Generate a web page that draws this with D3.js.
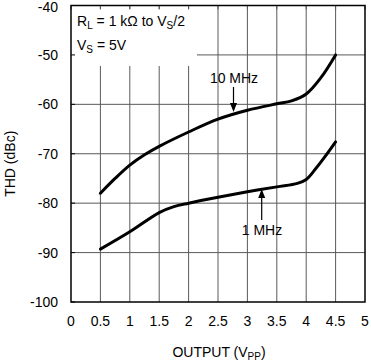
<!DOCTYPE html>
<html>
<head>
<meta charset="utf-8">
<script src="https://cdn.jsdelivr.net/npm/d3@7"></script>
<style>
  body { margin: 0; background: #fff; }
  svg text { font-family: "Liberation Sans", Arial, sans-serif; fill: #000; }
</style>
</head>
<body>
<svg class="chart"></svg>
<script>
// x ticks / y ticks
var xTicks = [0, 0.5, 1, 1.5, 2, 2.5, 3, 3.5, 4, 4.5, 5];
var yTicks = [-100, -90, -80, -70, -60, -50, -40];

// THD curves (output Vpp, dBc)
var out10 = [0.5, 0.75, 1.0, 1.25, 1.5, 2.0, 2.5, 3.0, 3.5, 3.75, 4.0, 4.25, 4.5];
var thd10 = [-78, -75.0, -72.3, -70.2, -68.5, -65.6, -63.0, -61.2, -59.9, -59.3, -57.9, -54.6, -50];

var out1 = [0.5, 1.0, 1.5, 1.75, 2.0, 2.5, 3.0, 3.5, 3.85, 4.0, 4.15, 4.3, 4.5];
var thd1 = [-89.3, -85.8, -81.9, -80.7, -80.0, -78.8, -77.7, -76.7, -76.0, -75.2, -73.2, -70.9, -67.6];

var width = 371, height = 362;
// note: can't call it "top", window.top is taken
var pL = 71, pT = 5.5, pR = 365, pB = 302;

var svg = d3.select('.chart').attr('width', width).attr('height', height);

var x = d3.scaleLinear().domain([0, 5]).range([pL, pR]);
var y = d3.scaleLinear().domain([-100, -40]).range([pB, pT]);

// grid
svg.append('g').selectAll('line').data(xTicks.slice(1, -1)).enter().append('line')
    .attr('x1', function(d) { return x(d); }).attr('x2', function(d) { return x(d); })
    .attr('y1', pT).attr('y2', pB)
    .attr('stroke', '#5a5a5a').attr('stroke-width', 1);
svg.append('g').selectAll('line').data(yTicks.slice(1, -1)).enter().append('line')
    .attr('x1', pL).attr('x2', pR)
    .attr('y1', function(d) { return y(d); }).attr('y2', function(d) { return y(d); })
    .attr('stroke', '#5a5a5a').attr('stroke-width', 1);

// legend box hides the grid
svg.append('rect').attr('x', pL).attr('y', pT + 3.5)
    .attr('width', 126).attr('height', 57).attr('fill', '#fff');

// inner tick stubs
svg.append('g').selectAll('line').data(yTicks).enter().append('line')
    .attr('x1', pL).attr('x2', pL + 4)
    .attr('y1', function(d) { return y(d); }).attr('y2', function(d) { return y(d); })
    .attr('stroke', '#000');
svg.append('g').selectAll('line').data(xTicks).enter().append('line')
    .attr('x1', function(d) { return x(d); }).attr('x2', function(d) { return x(d); })
    .attr('y1', pT).attr('y2', pT + 4)
    .attr('stroke', '#5a5a5a');

// frame
svg.append('rect').attr('x', pL).attr('y', pT)
    .attr('width', pR - pL).attr('height', pB - pT)
    .attr('fill', 'none').attr('stroke', '#000').attr('stroke-width', 1.5);

// tick labels
svg.append('g').selectAll('text').data(xTicks).enter().append('text')
    .attr('x', function(d) { return x(d); }).attr('y', 326)
    .attr('text-anchor', 'middle').attr('font-size', 14)
    .text(function(d) { return d; });
svg.append('g').selectAll('text').data(yTicks).enter().append('text')
    .attr('x', 58).attr('y', function(d) { return Math.max(y(d) + 5, 12); })
    .attr('text-anchor', 'end').attr('font-size', 14)
    .text(function(d) { return d; });

// curves
var line = d3.line()
    .x(function(d) { return x(d[0]); })
    .y(function(d) { return y(d[1]); })
    .curve(d3.curveCatmullRom.alpha(0.5));
[[out10, thd10], [out1, thd1]].forEach(function(s) {
    svg.append('path')
        .datum(d3.zip(s[0], s[1]))
        .attr('d', line)
        .attr('fill', 'none').attr('stroke', '#000')
        .attr('stroke-width', 3).attr('stroke-linecap', 'round');
});

// arrows
function arrow(x0, y0, x1, y1) {
    var ang = Math.atan2(y1 - y0, x1 - x0), L = 9, W = 3.5;
    var bx = x1 - L * Math.cos(ang), by = y1 - L * Math.sin(ang);
    svg.append('line').attr('x1', x0).attr('y1', y0).attr('x2', bx).attr('y2', by)
        .attr('stroke', '#000').attr('stroke-width', 1.2);
    svg.append('path')
        .attr('d', 'M' + x1 + ',' + y1 +
            'L' + (bx + W * Math.sin(ang)) + ',' + (by - W * Math.cos(ang)) +
            'L' + (bx - W * Math.sin(ang)) + ',' + (by + W * Math.cos(ang)) + 'Z')
        .attr('fill', '#000');
}
svg.append('text').attr('x', 234).attr('y', 83).attr('text-anchor', 'middle')
    .attr('font-size', 14).text('10 MHz');
arrow(233.5, 87, 233.5, 112);
svg.append('text').attr('x', 262).attr('y', 235).attr('text-anchor', 'middle')
    .attr('font-size', 14).text('1 MHz');
arrow(261.7, 220, 261.7, 189);

// conditions
var t1 = svg.append('text').attr('x', 77).attr('y', 26).attr('font-size', 14);
t1.append('tspan').text('R');
t1.append('tspan').attr('font-size', 10).attr('dy', 3).text('L');
t1.append('tspan').attr('dy', -3).text(' = 1 k\u03A9 to V');
t1.append('tspan').attr('font-size', 10).attr('dy', 3).text('S');
t1.append('tspan').attr('dy', -3).text('/2');
var t2 = svg.append('text').attr('x', 77).attr('y', 50).attr('font-size', 14);
t2.append('tspan').text('V');
t2.append('tspan').attr('font-size', 10).attr('dy', 3).text('S');
t2.append('tspan').attr('dy', -3).text(' = 5V');

// axis titles
var xt = svg.append('text').attr('x', 219).attr('y', 357)
    .attr('text-anchor', 'middle').attr('font-size', 14);
xt.append('tspan').text('OUTPUT (V');
xt.append('tspan').attr('font-size', 10).attr('dy', 3).text('PP');
xt.append('tspan').attr('dy', -3).text(')');
svg.append('text')
    .attr('transform', 'translate(15,' + ((pT + pB) / 2 + 10) + ') rotate(-90)')
    .attr('text-anchor', 'middle').attr('font-size', 14)
    .text('THD (dBc)');
</script>
</body>
</html>
